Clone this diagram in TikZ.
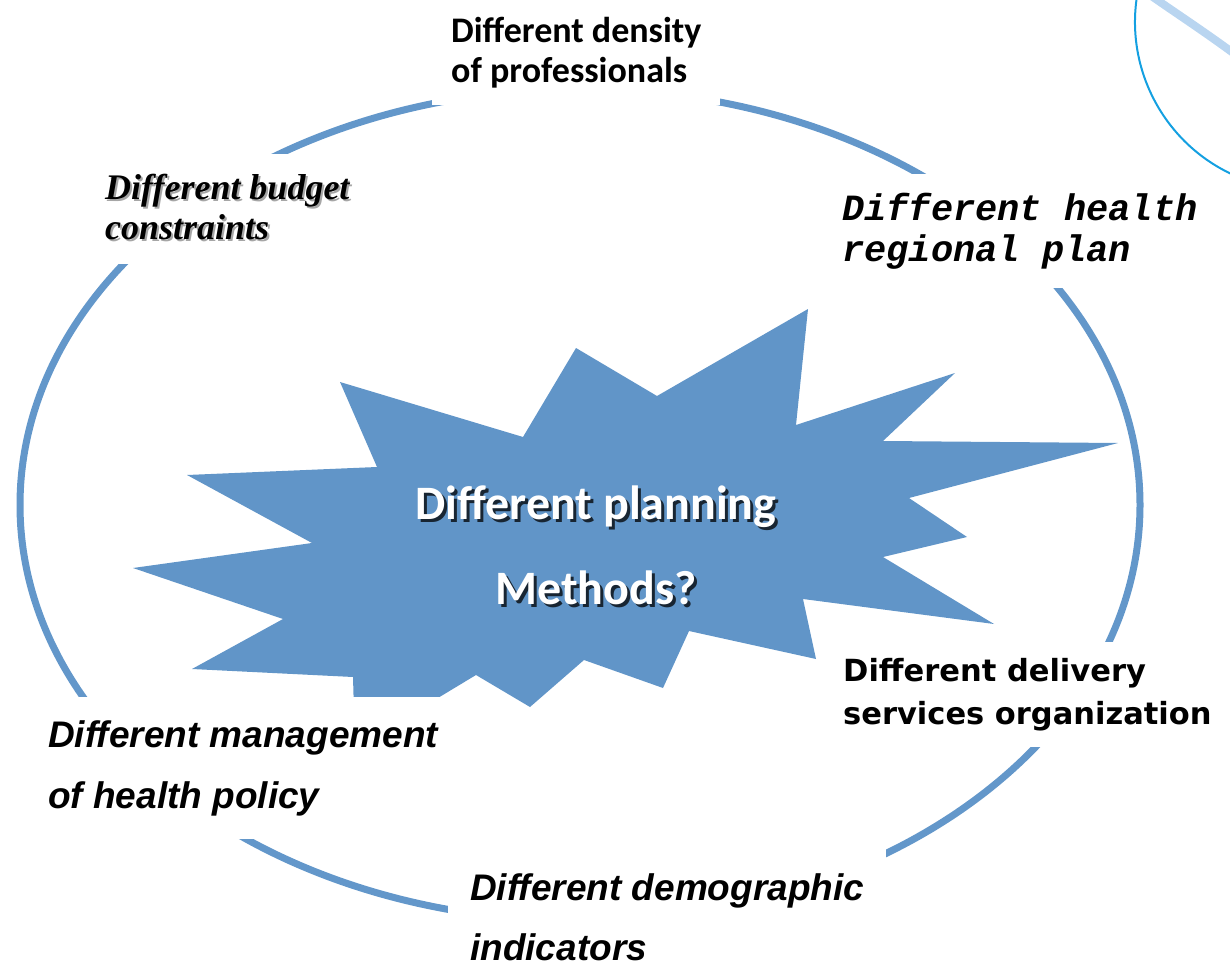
\documentclass[tikz,border=0pt]{standalone}
\usepackage{fontspec}
\newfontfamily\calibri{Carlito}
\newfontfamily\timesbi{Liberation Serif}
\newfontfamily\courbi{Liberation Mono}
\newfontfamily\arialbi{Liberation Sans}
\newfontfamily\comicb{DejaVu Sans}
\definecolor{ringblue}{RGB}{99,151,202}
\definecolor{starblue}{RGB}{97,149,200}
\definecolor{decoblue}{RGB}{20,160,225}
\definecolor{decolight}{RGB}{185,213,240}

\begin{document}
\begin{tikzpicture}[x=1pt, y=-1pt,
    every node/.style={fill=white, align=left, anchor=north west},
    ring/.style={draw=ringblue, line width=7pt},
    burst/.style={fill=starblue},
    centre/.style={fill=none, align=center, anchor=center,
      font=\calibri\bfseries\fontsize{48}{85}\selectfont}]
    \useasboundingbox (0,0) rectangle (1230,973);
    \clip (0,0) rectangle (1230,973);
    \draw[decolight, line width=8pt] (1150,-5) .. controls (1180,16) and (1205,32) .. (1240,58);
    \draw[decoblue, line width=2pt] (1303,22) ++(195:168) arc[start angle=195, end angle=105, radius=168];
    \draw[ring] (580,505) ellipse [x radius=560, y radius=416];
    \fill[burst] (133,568) -- (283,619) -- (192,669) -- (353,677) -- (355,748) -- (476,675)
      -- (530,707) -- (584,660) -- (663,688) -- (689,631) -- (816,659) -- (803,599)
      -- (994,624) -- (883,557) -- (967,537) -- (909,498) -- (1118,443) -- (883,441)
      -- (955,373) -- (796,425) -- (808,309) -- (657,396) -- (576,348) -- (523,437)
      -- (340,382) -- (377,467) -- (187,475) -- (312,543) -- cycle;
    \node[centre, text=black, opacity=0.75] (planshadow) at (599,548) {Different planning\\Methods?};
    \node[centre, text=white] (plan) at (596,545) {Different planning\\Methods?};
    \node[inner xsep=19pt, inner ysep=17pt, font=\calibri\bfseries\fontsize{36}{40}\selectfont]
      (density) at (432,0) {Different density\\of professionals};
    \node[text=black!35, inner xsep=10pt, inner ysep=22pt,
      font=\timesbi\bfseries\itshape\fontsize{36}{40}\selectfont]
      (budgetshadow) at (97,154) {Different budget\\constraints};
    \node[fill=none, inner xsep=10pt, inner ysep=22pt, font=\timesbi\bfseries\itshape\fontsize{36}{40}\selectfont]
      (budget) at (95,152) {Different budget\\constraints};
    \node[inner xsep=12pt, inner ysep=19pt, font=\courbi\bfseries\itshape\fontsize{37}{41}\selectfont]
      (health) at (830,174) {Different health\\regional plan};
    \node[inner xsep=12pt, inner ysep=16pt, font=\comicb\bfseries\fontsize{30.5}{43}\selectfont]
      (delivery) at (831,642) {Different delivery\\services organization};
    \node[inner xsep=10pt, inner ysep=23pt, font=\arialbi\bfseries\itshape\fontsize{37}{61}\selectfont]
      (management) at (38,697) {Different management\\of health policy};
    \node[inner xsep=22pt, inner ysep=30pt, font=\arialbi\bfseries\itshape\fontsize{37}{60}\selectfont]
      (demographic) at (448,843) {Different demographic\\indicators};
\end{tikzpicture}
\end{document}
